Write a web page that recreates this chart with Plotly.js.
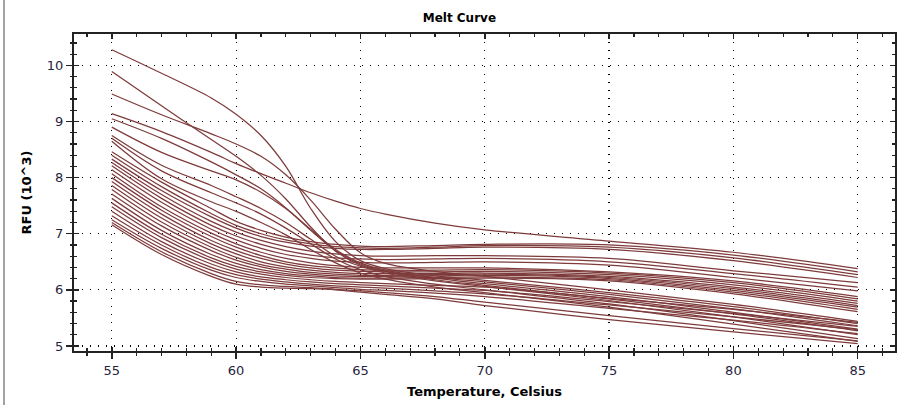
<!DOCTYPE html>
<html>
<head>
<meta charset="utf-8">
<script src="https://cdn.plot.ly/plotly-3.0.1.min.js"></script>
<style>
html,body{margin:0;padding:0;background:#fff;}
#wrap{position:relative;width:899px;height:405px;}
#chart{width:899px;height:405px;}
#frame{position:absolute;left:3px;top:0;width:2px;height:405px;background:#a3a3a3;}
</style>
</head>
<body>
<div id="wrap"><div id="chart"></div><div id="frame"></div></div>
<script>
// Temperature sampling points (Celsius)
const temps = [55, 57, 59, 60, 61, 62, 63, 64, 65, 66, 68, 70, 75, 80, 85];

// RFU (10^3) per well
// melting wells (start high, drop between 61 and 65)
const w01 = [10.28, 9.86, 9.42, 9.13, 8.75, 8.20, 7.45, 6.86, 6.52, 6.38, 6.25, 6.17, 5.95, 5.70, 5.40];
const w02 = [9.89, 9.28, 8.68, 8.38, 8.04, 7.62, 7.12, 6.69, 6.44, 6.33, 6.22, 6.14, 5.92, 5.66, 5.36];
const w03 = [9.49, 9.12, 8.78, 8.60, 8.38, 8.05, 7.60, 7.08, 6.66, 6.47, 6.33, 6.24, 6.00, 5.74, 5.44];
const w04 = [9.14, 8.82, 8.45, 8.25, 8.07, 7.90, 7.73, 7.58, 7.45, 7.35, 7.19, 7.07, 6.87, 6.67, 6.38];
const w05 = [9.05, 8.70, 8.28, 8.05, 7.80, 7.46, 7.06, 6.70, 6.46, 6.33, 6.18, 6.08, 5.84, 5.57, 5.27];
const w06 = [8.90, 8.45, 8.12, 7.96, 7.74, 7.45, 7.08, 6.72, 6.48, 6.35, 6.21, 6.11, 5.88, 5.60, 5.30];
const w07 = [8.75, 8.22, 7.86, 7.66, 7.45, 7.20, 6.90, 6.60, 6.42, 6.30, 6.16, 6.06, 5.81, 5.52, 5.20];
const w08 = [8.70, 8.12, 7.73, 7.55, 7.35, 7.10, 6.82, 6.55, 6.36, 6.24, 6.10, 6.00, 5.75, 5.45, 5.13];
const w09 = [8.65, 7.98, 7.57, 7.40, 7.20, 6.98, 6.72, 6.48, 6.30, 6.19, 6.05, 5.95, 5.69, 5.39, 5.08];
// dense group
const w10 = [8.46, 7.92, 7.45, 7.22, 7.06, 6.94, 6.86, 6.81, 6.78, 6.77, 6.79, 6.81, 6.80, 6.62, 6.32];
const w11 = [8.40, 7.84, 7.36, 7.15, 7.00, 6.89, 6.82, 6.77, 6.75, 6.74, 6.76, 6.79, 6.76, 6.57, 6.27];
const w12 = [8.33, 7.77, 7.30, 7.10, 6.95, 6.85, 6.78, 6.74, 6.72, 6.72, 6.74, 6.76, 6.72, 6.52, 6.22];
const w13 = [8.27, 7.70, 7.22, 7.03, 6.88, 6.77, 6.69, 6.64, 6.61, 6.60, 6.61, 6.61, 6.56, 6.34, 6.13];
const w14 = [8.21, 7.63, 7.15, 6.96, 6.81, 6.70, 6.62, 6.57, 6.55, 6.54, 6.55, 6.56, 6.50, 6.29, 6.05];
const w15 = [8.14, 7.56, 7.08, 6.89, 6.74, 6.63, 6.56, 6.51, 6.49, 6.48, 6.49, 6.50, 6.44, 6.22, 5.98];
const w16 = [8.07, 7.48, 7.01, 6.82, 6.67, 6.56, 6.48, 6.43, 6.40, 6.39, 6.39, 6.39, 6.32, 6.16, 5.88];
const w17 = [8.00, 7.42, 6.95, 6.76, 6.61, 6.50, 6.43, 6.39, 6.36, 6.35, 6.35, 6.36, 6.30, 6.13, 5.84];
const w18 = [7.93, 7.35, 6.88, 6.70, 6.56, 6.46, 6.39, 6.35, 6.33, 6.32, 6.32, 6.33, 6.27, 6.09, 5.80];
const w19 = [7.86, 7.28, 6.82, 6.64, 6.50, 6.41, 6.35, 6.31, 6.29, 6.29, 6.29, 6.30, 6.24, 6.05, 5.76];
const w20 = [7.79, 7.21, 6.76, 6.58, 6.45, 6.37, 6.31, 6.28, 6.26, 6.26, 6.27, 6.28, 6.22, 6.02, 5.72];
const w21 = [7.71, 7.14, 6.70, 6.53, 6.41, 6.33, 6.28, 6.25, 6.24, 6.24, 6.25, 6.26, 6.20, 5.99, 5.69];
const w22 = [7.63, 7.06, 6.63, 6.47, 6.36, 6.29, 6.25, 6.22, 6.21, 6.21, 6.22, 6.23, 6.18, 5.96, 5.65];
const w23 = [7.55, 6.99, 6.57, 6.42, 6.32, 6.26, 6.22, 6.20, 6.19, 6.19, 6.20, 6.21, 6.16, 5.93, 5.61];
const w24 = [7.48, 6.93, 6.52, 6.37, 6.28, 6.22, 6.18, 6.15, 6.13, 6.11, 6.08, 6.05, 5.85, 5.65, 5.42];
const w25 = [7.40, 6.86, 6.46, 6.32, 6.23, 6.18, 6.14, 6.11, 6.09, 6.07, 6.03, 5.99, 5.79, 5.58, 5.35];
const w26 = [7.32, 6.80, 6.40, 6.27, 6.19, 6.14, 6.10, 6.07, 6.05, 6.03, 5.98, 5.93, 5.73, 5.52, 5.29];
const w27 = [7.25, 6.74, 6.35, 6.22, 6.15, 6.10, 6.07, 6.04, 6.01, 5.99, 5.94, 5.88, 5.67, 5.46, 5.22];
const w28 = [7.20, 6.68, 6.29, 6.15, 6.09, 6.06, 6.04, 6.01, 5.98, 5.95, 5.88, 5.78, 5.54, 5.31, 5.09];
const w29 = [7.16, 6.63, 6.24, 6.10, 6.05, 6.03, 6.02, 6.00, 5.96, 5.92, 5.84, 5.72, 5.47, 5.25, 5.04];

const wells = [w01,w02,w03,w04,w05,w06,w07,w08,w09,w10,w11,w12,w13,w14,w15,w16,w17,w18,w19,w20,w21,w22,w23,w24,w25,w26,w27,w28,w29];

const xTicks = [55, 60, 65, 70, 75, 80, 85];
const yTicks = [5, 6, 7, 8, 9, 10];

const lineColor = '#7e3b3b';
const axCol = '#222222';
const tickFont = {family: 'DejaVu Sans, Verdana, sans-serif', size: 13, color: '#1f2440'};
const titleFont = {family: 'DejaVu Sans, Verdana, sans-serif', size: 13, color: '#000', weight: 'bold'};

const traces = wells.map((w, i) => ({
  type: 'scatter', mode: 'lines', x: temps, y: w,
  line: {color: lineColor, width: 1.25, shape: 'spline', smoothing: 1},
  hoverinfo: 'skip', showlegend: false
}));
// empty helper traces so the overlay (inner-tick) axes are drawn
traces.push({type: 'scatter', x: [], y: [], xaxis: 'x2', yaxis: 'y2', showlegend: false});
traces.push({type: 'scatter', x: [], y: [], xaxis: 'x3', yaxis: 'y3', showlegend: false});

const xr = [53.48, 86.5];
const yr = [4.91, 10.56];

const layout = {
  width: 899, height: 405,
  margin: {l: 74, r: 4, t: 34, b: 54},
  paper_bgcolor: '#fff', plot_bgcolor: '#fff',
  showlegend: false,
  title: {text: 'Melt Curve', x: 0.511, xanchor: 'center', y: 0.955, yanchor: 'middle',
          font: {family: 'DejaVu Sans, Verdana, sans-serif', size: 12, color: '#000', weight: 'bold'}},
  xaxis: {
    range: xr, tickvals: xTicks, ticktext: xTicks.map(String),
    ticks: 'outside', ticklen: 6, tickwidth: 1.5, tickcolor: axCol,
    showline: true, linecolor: axCol, linewidth: 2,
    showgrid: true, gridcolor: '#000', gridwidth: 1.2, griddash: '1px,7px',
    zeroline: false, tickfont: tickFont,
    minor: {dtick: 1, tick0: 55, ticks: 'outside', ticklen: 3, tickwidth: 1.2, tickcolor: axCol, showgrid: false},
    title: {text: 'Temperature, Celsius', font: titleFont, standoff: 10}
  },
  yaxis: {
    range: yr, tickvals: yTicks, ticktext: yTicks.map(String),
    ticks: 'outside', ticklen: 6, tickwidth: 1.5, tickcolor: axCol,
    showline: true, linecolor: axCol, linewidth: 2,
    showgrid: true, gridcolor: '#000', gridwidth: 1.2, griddash: '1px,7px',
    zeroline: false, tickfont: tickFont,
    minor: {dtick: 0.2, tick0: 5, ticks: 'outside', ticklen: 2, tickwidth: 1.2, tickcolor: axCol, showgrid: false},
    title: {text: 'RFU (10^3)', font: titleFont, standoff: 12}
  },
  xaxis2: {
    overlaying: 'x', anchor: 'y2', side: 'bottom', range: xr,
    tickvals: xTicks, ticks: 'inside', ticklen: 4, tickwidth: 1.5, tickcolor: axCol,
    minor: {dtick: 1, tick0: 55, ticks: 'inside', ticklen: 3, tickwidth: 1.2, tickcolor: axCol},
    showticklabels: false, showgrid: false, zeroline: false, showline: false
  },
  yaxis2: {
    overlaying: 'y', anchor: 'x2', side: 'left', range: yr,
    tickvals: yTicks, ticks: 'inside', ticklen: 5, tickwidth: 1.5, tickcolor: axCol,
    minor: {dtick: 0.2, tick0: 5, ticks: 'inside', ticklen: 3, tickwidth: 1.2, tickcolor: axCol},
    showticklabels: false, showgrid: false, zeroline: false, showline: false
  },
  xaxis3: {
    overlaying: 'x', anchor: 'y3', side: 'top', range: xr,
    tickvals: xTicks, ticks: 'inside', ticklen: 5, tickwidth: 1.5, tickcolor: axCol,
    minor: {dtick: 1, tick0: 55, ticks: 'inside', ticklen: 3, tickwidth: 1.2, tickcolor: axCol},
    showticklabels: false, showgrid: false, zeroline: false,
    showline: true, linecolor: axCol, linewidth: 2
  },
  yaxis3: {
    overlaying: 'y', anchor: 'x3', side: 'right', range: yr,
    tickvals: yTicks, ticks: 'inside', ticklen: 5, tickwidth: 1.5, tickcolor: axCol,
    minor: {dtick: 0.2, tick0: 5, ticks: 'inside', ticklen: 3, tickwidth: 1.2, tickcolor: axCol},
    showticklabels: false, showgrid: false, zeroline: false,
    showline: true, linecolor: axCol, linewidth: 2
  }
};

Plotly.newPlot('chart', traces, layout, {staticPlot: true, displayModeBar: false});
</script>
</body>
</html>
